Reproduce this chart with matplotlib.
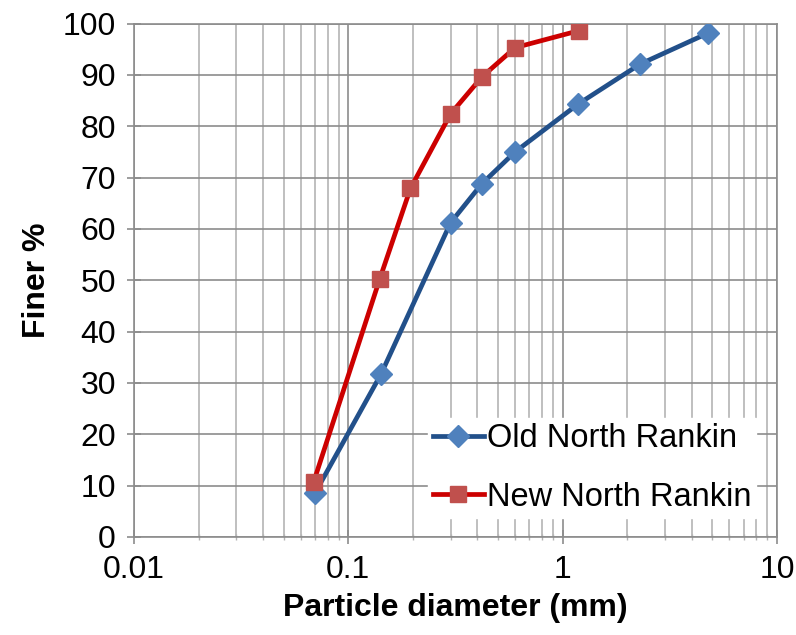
import matplotlib
matplotlib.use('Agg')
import matplotlib.pyplot as plt
from matplotlib.ticker import LogLocator, NullFormatter, FixedLocator

plt.rcParams['font.family'] = ['Liberation Sans', 'DejaVu Sans']

# grain size data
old_d = [0.07, 0.142, 0.3, 0.42, 0.6, 1.18, 2.3, 4.75]
old_finer = [8.6, 31.7, 61.2, 68.8, 75.0, 84.3, 92.1, 98.1]
new_d = [0.069, 0.14, 0.195, 0.3, 0.42, 0.6, 1.19]
new_finer = [10.8, 50.2, 67.9, 82.4, 89.6, 95.3, 98.6]

x_ticks = [0.01, 0.1, 1, 10]
x_labels = ['0.01', '0.1', '1', '10']
y_ticks = list(range(0, 101, 10))

fig = plt.figure(figsize=(7.96, 6.35), dpi=100)
ax = fig.add_axes([134/796, 1-537/635, (777-134)/796, (537-23.5)/635])

ax.plot(old_d, old_finer, color='#22508A', lw=3.4, marker='D', ms=11,
        mfc='#4F81BD', mec='#4F81BD', label='Old North Rankin', zorder=3)
ax.plot(new_d, new_finer, color='#CC0000', lw=3.4, marker='s', ms=12,
        mfc='#C0504D', mec='#C0504D', label='New North Rankin', zorder=3)

ax.set_xscale('log')
ax.set_xlim(0.01, 10)
ax.set_ylim(0, 100)
ax.xaxis.set_major_locator(FixedLocator(x_ticks))
ax.set_xticklabels(x_labels)
ax.xaxis.set_minor_locator(LogLocator(base=10, subs=range(2, 10)))
ax.xaxis.set_minor_formatter(NullFormatter())
ax.set_yticks(y_ticks)

ax.grid(True, which='major', color='#8C8C8C', lw=1.2)
ax.grid(True, which='minor', axis='x', color='#B4B4B4', lw=1.2)
ax.set_axisbelow(True)
for s in ax.spines.values():
    s.set_color('#8C8C8C')
    s.set_linewidth(1.2)
ax.tick_params(which='major', direction='inout', length=10, width=1.2,
               color='#8C8C8C', labelsize=23, pad=8)
ax.tick_params(which='minor', direction='inout', length=5, width=1.0,
               color='#B4B4B4')

ax.set_xlabel('Particle diameter (mm)', fontsize=23, fontweight='bold', labelpad=6)
ax.set_ylabel('Finer %', fontsize=23, fontweight='bold', labelpad=8)

leg = ax.legend(loc='lower right', bbox_to_anchor=(0.993, 0.006), fontsize=23.5,
                frameon=True, fancybox=False, framealpha=1, edgecolor='white',
                handlelength=1.55, handletextpad=0.1, borderpad=0.15,
                labelspacing=0.85)

plt.savefig('out.png', dpi=100)
